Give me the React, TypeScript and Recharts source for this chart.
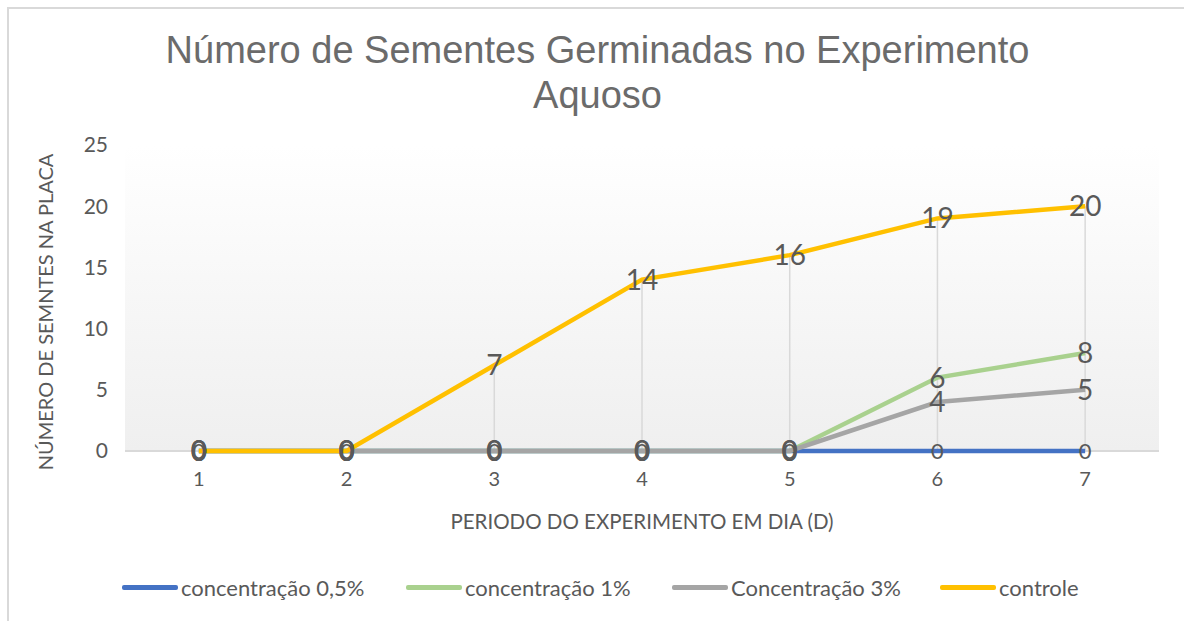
import React from "react";
import {
  LineChart,
  Line,
  XAxis,
  YAxis,
  LabelList,
  ReferenceLine,
  ReferenceArea,
} from "recharts";

const days = ["1", "2", "3", "4", "5", "6", "7"];
const conc05 = [0, 0, 0, 0, 0, 0, 0];
const conc1 = [0, 0, 0, 0, 0, 6, 8];
const conc3 = [0, 0, 0, 0, 0, 4, 5];
const controle = [0, 0, 7, 14, 16, 19, 20];
const yTicks = [0, 5, 10, 15, 20, 25];

const series = [
  { key: "c05", name: "concentração 0,5%", color: "#4472C4", labelSize: 22 },
  { key: "c1", name: "concentração 1%", color: "#A9D18E", labelSize: 28 },
  { key: "c3", name: "Concentração 3%", color: "#A5A5A5", labelSize: 28 },
  { key: "ctrl", name: "controle", color: "#FFC000", labelSize: 28 },
];

const data = days.map((d, i) => ({
  dia: d,
  c05: conc05[i],
  c1: conc1[i],
  c3: conc3[i],
  ctrl: controle[i],
}));

const FONT = "Lato, 'Open Sans', sans-serif";
const TEXT = "#595959";

const YLabel = ({ viewBox }: any) => {
  const x = viewBox.x + 20;
  const y = viewBox.y + viewBox.height / 2 + 14;
  return (
    <text
      x={x}
      y={y}
      transform={`rotate(-90 ${x} ${y})`}
      textAnchor="middle"
      dominantBaseline="central"
      fill={TEXT}
      fontSize={20}
      fontFamily={FONT}
    >
      NÚMERO DE SEMNTES NA PLACA
    </text>
  );
};

export default function App() {
  return (
    <div style={{ position: "relative", width: 1184, height: 621, background: "#fff" }}>
      <style>{`body{margin:0}`}</style>
      <div
        style={{
          position: "absolute",
          left: 7,
          top: 7,
          width: 1184,
          height: 621,
          borderTop: "2px solid #d9d9d9",
          borderLeft: "2px solid #d9d9d9",
        }}
      />
      <div
        style={{
          position: "absolute",
          left: 0,
          top: 28,
          width: 1195,
          textAlign: "center",
          fontFamily: "'Liberation Sans', Arial, sans-serif",
          fontSize: 38,
          lineHeight: "45px",
          color: "#6b6b6b",
        }}
      >
        Número de Sementes Germinadas no Experimento
        <br />
        Aquoso
      </div>
      <LineChart
        width={1184}
        height={621}
        data={data}
        margin={{ top: 145, right: 25, bottom: 90, left: 25 }}
        style={{ position: "absolute", left: 0, top: 0 }}
      >
        <defs>
          <linearGradient id="plotBg" x1="0" y1="0" x2="0" y2="1">
            <stop offset="0%" stopColor="#ffffff" />
            <stop offset="12%" stopColor="#fdfdfd" />
            <stop offset="100%" stopColor="#efefef" />
          </linearGradient>
        </defs>
        <ReferenceArea
          x1="1"
          x2="7"
          y1={0}
          y2={25}
          fill="url(#plotBg)"
          fillOpacity={1}
          stroke="none"
          ifOverflow="extendDomain"
        />
        <XAxis
          dataKey="dia"
          scale="band"
          height={80}
          tickLine={false}
          tickSize={0}
          tickMargin={21}
          axisLine={false}
          tick={{ fill: TEXT, fontSize: 20, fontFamily: FONT }}
          label={{
            value: "PERIODO DO EXPERIMENTO EM DIA (D)",
            position: "insideBottom",
            offset: 2,
            fill: TEXT,
            fontSize: 20.5,
            fontFamily: FONT,
          }}
        />
        <YAxis
          domain={[0, 25]}
          ticks={yTicks}
          width={100}
          axisLine={false}
          tickLine={false}
          tickSize={0}
          tickMargin={17}
          tick={{ fill: TEXT, fontSize: 21, fontFamily: FONT }}
          label={<YLabel />}
        />
        <ReferenceLine y={0} stroke="#d9d9d9" strokeWidth={2} />
        {days.map((d, i) => (
          <ReferenceLine
            key={d}
            segment={[
              { x: d, y: 0 },
              { x: d, y: Math.max(conc05[i], conc1[i], conc3[i], controle[i]) },
            ]}
            stroke="#d9d9d9"
            strokeWidth={1.5}
          />
        ))}
        {series.map((s) => (
          <Line
            key={s.key}
            dataKey={s.key}
            name={s.name}
            stroke={s.color}
            strokeWidth={4.5}
            dot={false}
            activeDot={false}
            isAnimationActive={false}
          />
        ))}
        {series.map((s) => (
          <Line
            key={s.key + "-lbl"}
            dataKey={s.key}
            stroke="none"
            dot={false}
            activeDot={false}
            legendType="none"
            isAnimationActive={false}
          >
            <LabelList
              dataKey={s.key}
              position="center"
              fill={TEXT}
              fontSize={s.labelSize}
              fontFamily={FONT}
            />
          </Line>
        ))}
      </LineChart>
      {series.map((s, i) => {
        const lefts = [122, 406, 672, 940];
        return (
          <div
            key={s.key}
            style={{
              position: "absolute",
              left: lefts[i],
              top: 574,
              display: "flex",
              alignItems: "center",
              fontFamily: FONT,
              fontSize: 22,
              color: TEXT,
              whiteSpace: "nowrap",
            }}
          >
            <span
              style={{
                display: "inline-block",
                width: 56,
                height: 4.5,
                borderRadius: 2,
                background: s.color,
                marginRight: 3,
              }}
            />
            {s.name}
          </div>
        );
      })}
    </div>
  );
}
